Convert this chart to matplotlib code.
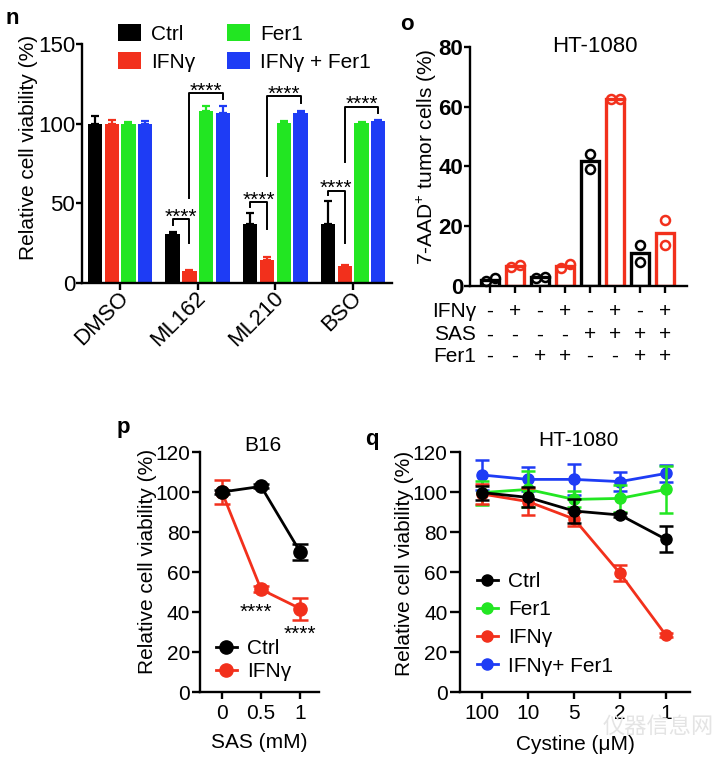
import numpy as np
import matplotlib
matplotlib.use('Agg')
import matplotlib.pyplot as plt
import matplotlib.transforms as mtransforms
from matplotlib.lines import Line2D

plt.rcParams['font.family'] = ['Liberation Sans', 'DejaVu Sans']
plt.rcParams['mathtext.fontset'] = 'custom'
plt.rcParams['mathtext.rm'] = 'Liberation Sans'
plt.rcParams['mathtext.bf'] = 'Liberation Sans:bold'

BLACK = 'black'
RED = '#F2301C'
GREEN = '#22E622'
BLUE = '#1E3CF5'

# ---- panel n data
n_groups = ['DMSO', 'ML162', 'ML210', 'BSO']
n_series = ['Ctrl', 'IFN\u03b3', 'Fer1', 'IFN\u03b3 + Fer1']
n_ctrl = [100, 30.5, 37.2, 37.2]
n_ifn = [100, 7.8, 14.6, 10.4]
n_fer = [100, 107.7, 100.6, 100.3]
n_ifnfer = [100, 106.8, 107.0, 101.5]
n_ctrl_err = [4.6, 1.2, 6.7, 14.1]
n_ifn_err = [2.5, 0.5, 2.0, 0.7]
n_fer_err = [1.2, 3.2, 0.8, 0.8]
n_ifnfer_err = [1.5, 4.3, 1.2, 0.6]
# brackets: group, left bar, right bar, top, left leg end, right leg end
n_br_group = [1, 1, 2, 2, 3, 3]
n_br_from = [0, 1, 0, 1, 0, 1]
n_br_to = [1, 3, 1, 3, 1, 3]
n_br_top = [40.2, 119.1, 50.7, 117.4, 57.9, 110.7]
n_br_left = [36.4, 53.2, 47.9, 67.2, 55.2, 76.1]
n_br_right = [25.3, 115.3, 33.7, 112.8, 24.9, 106.5]

# ---- panel o data
o_bars = [2.1, 6.8, 3.0, 6.6, 41.7, 62.5, 10.9, 17.9]
o_rep1 = [1.7, 6.5, 2.8, 5.9, 44.1, 62.5, 13.7, 22.1]
o_rep2 = [2.6, 7.0, 3.1, 7.2, 39.3, 62.5, 8.1, 13.7]
o_rows = ['IFN\u03b3', 'SAS', 'Fer1']
o_ifn = ['-', '+', '-', '+', '-', '+', '-', '+']
o_sas = ['-', '-', '-', '-', '+', '+', '+', '+']
o_fer = ['-', '-', '+', '+', '-', '-', '+', '+']

# ---- panel p data
p_x = [0, 0.5, 1]
p_xlabels = ['0', '0.5', '1']
p_ctrl = [100, 102.8, 70]
p_ctrl_err = [1, 1, 4]
p_ifn = [100, 51.3, 41.7]
p_ifn_err = [6, 1.5, 5.5]

# ---- panel q data
q_labels = ['100', '10', '5', '2', '1']
q_ctrl = [99.7, 97.3, 90.5, 88.5, 76.3]
q_ctrl_err = [3.5, 5, 6, 1, 6.5]
q_fer = [99.7, 101.3, 96.3, 96.8, 101.3]
q_fer_err = [6, 9, 4, 6.7, 11.7]
q_ifn = [99, 95.2, 86.5, 59.3, 28.3]
q_ifn_err = [5, 6.7, 3.5, 4, 1]
q_ifnfer = [108.5, 106.3, 106.3, 105.2, 109.3]
q_ifnfer_err = [7.5, 6, 7.7, 4.6, 4.2]

W, H = 721, 760
fig = plt.figure(figsize=(W/100, H/100), dpi=100)

def px_axes(left, top, right, bottom):
   ax = fig.add_axes([left/W, 1-bottom/H, (right-left)/W, (bottom-top)/H])
   for s in ['top', 'right']:
      ax.spines[s].set_visible(False)
   for s in ['left', 'bottom']:
      ax.spines[s].set_linewidth(1.7)
   ax.tick_params(width=1.7, length=5, labelsize=15)
   return ax

#=========================
# panel n
ax = px_axes(82, 44, 392, 283)
pitch = 0.216
bw = 0.184
gx = np.arange(len(n_groups))
vals = [n_ctrl, n_ifn, n_fer, n_ifnfer]
errs = [n_ctrl_err, n_ifn_err, n_fer_err, n_ifnfer_err]
cols = [BLACK, RED, GREEN, BLUE]
for j in range(4):
   xx = gx + (j-1.5)*pitch
   ax.bar(xx, vals[j], width=bw, color=cols[j], label=n_series[j], zorder=2)
   ax.errorbar(xx, vals[j], yerr=[np.zeros(4), errs[j]], fmt='none', ecolor=cols[j],
               elinewidth=1.6, capsize=3, capthick=1.6, zorder=1)
for k in range(len(n_br_top)):
   g = n_br_group[k]
   x1 = g + (n_br_from[k]-1.5)*pitch
   x2 = g + (n_br_to[k]-1.5)*pitch
   ax.plot([x1, x1, x2, x2], [n_br_left[k], n_br_top[k], n_br_top[k], n_br_right[k]],
           color='black', lw=1.4, clip_on=False)
   ax.annotate('****', xy=((x1+x2)/2, n_br_top[k]), xytext=(0, -2.5), textcoords='offset points',
               ha='center', va='baseline', fontsize=15)
ax.set_xlim(-0.49, 3.5)
ax.set_ylim(0, 150)
ax.set_yticks([0, 50, 100, 150])
ax.tick_params(axis='y', labelsize=16, length=4, pad=1)
ax.set_xticks(gx)
ax.set_xticklabels(n_groups, rotation=45, ha='right', va='center', rotation_mode='anchor', fontsize=16)
shift = mtransforms.ScaledTranslation(5/100, 0, fig.dpi_scale_trans)
for lab in ax.get_xticklabels():
   lab.set_transform(lab.get_transform() + shift)
ax.set_ylabel('Relative cell viability (%)', fontsize=15)
ax.yaxis.set_label_coords(-0.142, 0.567)
ax.legend(ncol=2, frameon=False, fontsize=15, loc='upper left',
          bbox_to_anchor=(118/W, 1-24/H), bbox_transform=fig.transFigure,
          handlelength=1.1, handleheight=0.85, handletextpad=0.5,
          columnspacing=1.5, labelspacing=0.42, borderpad=0, borderaxespad=0)

#=========================
# panel o
ax = px_axes(470, 47, 687, 286)
ox = np.arange(len(o_bars))
ocols = [BLACK if i % 2 == 0 else RED for i in range(len(o_bars))]
ax.bar(ox, o_bars, width=0.72, facecolor='white', edgecolor=ocols, linewidth=2.4, zorder=2)
for i in range(len(o_bars)):
   off = 0.18 if abs(o_rep1[i]-o_rep2[i]) < 4 else 0
   ax.plot([ox[i]-off, ox[i]+off], [o_rep1[i], o_rep2[i]], ls='none', marker='o',
           mfc='none', mec=ocols[i], ms=6.5, mew=1.8, zorder=3, clip_on=False)
ax.set_xlim(-0.8, 7.88)
ax.set_ylim(0, 80)
ax.set_yticks([0, 20, 40, 60, 80])
ax.set_xticks(ox)
ax.set_xticklabels([])
for lab in ax.get_yticklabels():
   lab.set_fontweight('bold')
ax.tick_params(axis='y', labelsize=16, length=4, pad=1)
ax.set_ylabel('7-AAD$^{+}$ tumor cells (%)', fontsize=15)
ax.yaxis.set_label_coords(-0.143, 0.54)
ax.text(0.576, 1.0, 'HT-1080', transform=ax.transAxes, ha='center', va='center', fontsize=16)
tr = ax.get_xaxis_transform()
row_y = [-0.105, -0.205, -0.293]
signs = [o_ifn, o_sas, o_fer]
for r in range(3):
   ax.text(-0.56, row_y[r], o_rows[r], transform=tr, ha='right', va='center', fontsize=15)
   for i in range(len(o_bars)):
      ax.text(ox[i], row_y[r], signs[r][i], transform=tr, ha='center', va='center', fontsize=15)

#=========================
# panel p
ax = px_axes(200, 452, 319, 692)
ax.errorbar(p_x, p_ctrl, yerr=p_ctrl_err, color=BLACK, lw=2, marker='o', ms=9.5,
            capsize=6, capthick=1.8, elinewidth=1.8, zorder=3, clip_on=False)
ax.errorbar(p_x, p_ifn, yerr=p_ifn_err, color=RED, lw=2, marker='o', ms=9.5,
            capsize=6, capthick=1.8, elinewidth=1.8, zorder=2, clip_on=False)
ax.text(0.43, 40, '****', ha='center', va='center', fontsize=15)
ax.text(1.0, 29, '****', ha='center', va='center', fontsize=15)
ax.set_xlim(-0.28, 1.24)
ax.set_ylim(0, 120)
ax.set_yticks(np.arange(0, 121, 20))
ax.set_xticks(p_x)
ax.set_xticklabels(p_xlabels)
ax.tick_params(axis='y', length=6, pad=1)
ax.set_xlabel('SAS (mM)', fontsize=15, labelpad=7)
ax.set_ylabel('Relative cell viability (%)', fontsize=15)
ax.yaxis.set_label_coords(-0.361, 0.543)
ax.text(0.53, 1.029, 'B16', transform=ax.transAxes, ha='center', va='center', fontsize=15)
p_handles = [Line2D([], [], color=BLACK, lw=2, marker='o', ms=9.5),
             Line2D([], [], color=RED, lw=2, marker='o', ms=9.5)]
ax.legend(p_handles, ['Ctrl', 'IFN\u03b3'], frameon=False, fontsize=15, loc='upper left',
          bbox_to_anchor=(216/W, 1-639/H), bbox_transform=fig.transFigure,
          handlelength=1.0, handletextpad=0.5, labelspacing=0.2, borderpad=0, borderaxespad=0)

#=========================
# panel q
ax = px_axes(460, 452, 690, 692)
qx = np.arange(len(q_labels))
q_series = [(q_ifnfer, q_ifnfer_err, BLUE, 'IFN\u03b3+ Fer1'),
            (q_fer, q_fer_err, GREEN, 'Fer1'),
            (q_ifn, q_ifn_err, RED, 'IFN\u03b3'),
            (q_ctrl, q_ctrl_err, BLACK, 'Ctrl')]
handles = {}
for z, (v, e, c, lab) in enumerate(q_series):
   ax.errorbar(qx, v, yerr=e, color=c, lw=2, marker='o', ms=8,
               capsize=5, capthick=1.8, elinewidth=1.8, zorder=2+z, clip_on=False)
   handles[lab] = Line2D([], [], color=c, lw=2, marker='o', ms=8)
ax.set_xlim(-0.48, 4.52)
ax.set_ylim(0, 120)
ax.set_yticks(np.arange(0, 121, 20))
ax.set_xticks(qx)
ax.set_xticklabels(q_labels)
ax.tick_params(axis='y', length=7, pad=2)
ax.set_xlabel('Cystine (\u03bcM)', fontsize=15, labelpad=9)
ax.set_ylabel('Relative cell viability (%)', fontsize=15)
ax.yaxis.set_label_coords(-0.2, 0.5375)
ax.text(0.513, 1.05, 'HT-1080', transform=ax.transAxes, ha='center', va='center', fontsize=15)
order = ['Ctrl', 'Fer1', 'IFN\u03b3', 'IFN\u03b3+ Fer1']
ax.legend([handles[k] for k in order], order, frameon=False, fontsize=15, loc='upper left',
          bbox_to_anchor=(477/W, 1-572/H), bbox_transform=fig.transFigure,
          handlelength=1.0, handletextpad=0.5, labelspacing=0.44, borderpad=0, borderaxespad=0)

# panel letters
fig.text(12/W, 1-18/H, 'n', fontsize=16, fontweight='bold', ha='center', va='center')
fig.text(407/W, 1-25/H, 'o', fontsize=16, fontweight='bold', ha='center', va='center')
fig.text(123/W, 1-427/H, 'p', fontsize=16, fontweight='bold', ha='center', va='center')
fig.text(372/W, 1-440/H, 'q', fontsize=16, fontweight='bold', ha='center', va='center')

# faint watermark
fig.text(658/W, 1-726/H, '\u4eea\u5668\u4fe1\u606f\u7f51', fontsize=16, color='#e4e4e4',
         family=['Noto Sans CJK SC', 'DejaVu Sans'], ha='center', va='center', zorder=0)

plt.savefig('out.png', dpi=100)
